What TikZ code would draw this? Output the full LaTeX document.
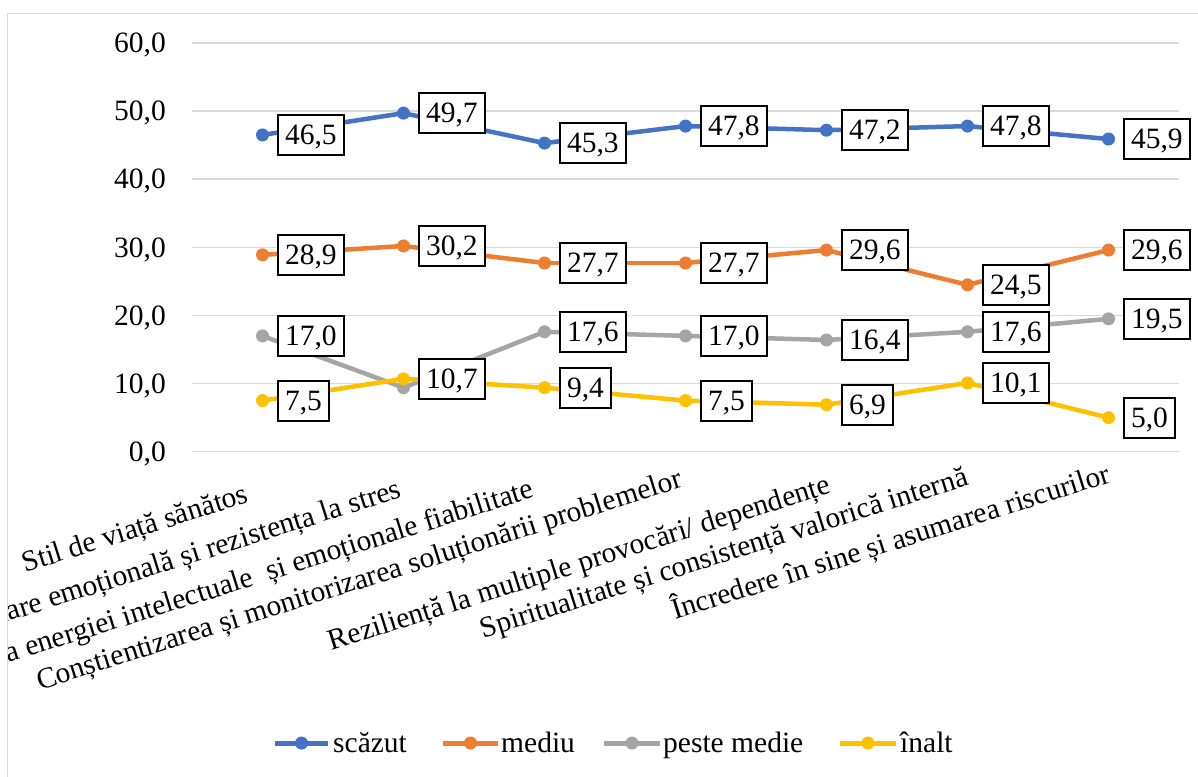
\documentclass[tikz,border=0pt]{standalone}
\usepackage{fontspec}
\setmainfont{Liberation Serif}
\usetikzlibrary{calc}
\definecolor{cblue}{HTML}{4472C4}
\definecolor{corange}{HTML}{ED7D31}
\definecolor{cgray}{HTML}{A5A5A5}
\definecolor{cyellow}{HTML}{FFC000}
\definecolor{gridgray}{HTML}{D9D9D9}
\newcommand\chartfont{\fontsize{29.5}{35}\selectfont}
% one series: name, colour, list of values
\newcommand\drawseries[3]{%
  \foreach \v [count=\i] in {#3} {
    \coordinate (#1\i) at ({262.5+141*(\i-1)}, {451.7-6.812*\v});
  }
  \foreach \i [count=\j] in {2,...,7} {
    \draw[dataline, #2] (#1\j) -- (#1\i);
  }
  \foreach \i in {1,...,7} {
    \node[dot, fill=#2] (#1m\i) at (#1\i) {};
  }
}
\begin{document}
\begin{tikzpicture}[x=1pt, y=-1pt,
  gridline/.style={draw=gridgray, line width=1.5pt},
  dataline/.style={line width=4.5pt, line cap=round, line join=round},
  legline/.style={line width=5pt},
  dot/.style={circle, inner sep=0pt, minimum size=13pt, draw=none},
  vlabel/.style={draw=black, line width=2pt, fill=white, anchor=west,
    inner xsep=7.5pt, inner ysep=10.25pt, text height=19.5pt, text depth=0pt,
    font=\chartfont},
  ylabel/.style={anchor=base east, inner sep=0pt, font=\chartfont},
  catlabel/.style={anchor=base east, inner sep=0pt, rotate=17.5, font=\chartfont},
  legtext/.style={anchor=base west, inner sep=0pt, font=\chartfont}]
\useasboundingbox (0,0) rectangle (1198,776);
\fill[white] (0,0) rectangle (1198,776);

\begin{scope}
\clip (8.5,14.5) rectangle (1198,776);

% horizontal grid and value axis
\foreach \v in {0,10,...,60} {
  \draw[gridline] (192,{451.7-6.812*\v}) -- (1179,{451.7-6.812*\v});
  \node[ylabel] (yl\v) at (166,{451.7-6.812*\v+9.75}) {\v,0};
}

% series
\drawseries{b}{cblue}{46.5,49.7,45.3,47.8,47.2,47.8,45.9}
\drawseries{o}{corange}{28.9,30.2,27.7,27.7,29.6,24.5,29.6}
\drawseries{g}{cgray}{17.0,9.4,17.6,17.0,16.4,17.6,19.5}
\drawseries{y}{cyellow}{7.5,10.7,9.4,7.5,6.9,10.1,5.0}

% data labels
\foreach \i/\t in {1/{46,5},2/{49,7},3/{45,3},4/{47,8},5/{47,2},6/{47,8},7/{45,9}}
  \node[vlabel] (bl\i) at ([xshift=14pt]b\i) {\t};
\foreach \i/\t in {1/{28,9},2/{30,2},3/{27,7},4/{27,7},5/{29,6},6/{24,5},7/{29,6}}
  \node[vlabel] (ol\i) at ([xshift=14pt]o\i) {\t};
\foreach \i/\t in {1/{17,0},3/{17,6},4/{17,0},5/{16,4},6/{17,6},7/{19,5}}
  \node[vlabel] (gl\i) at ([xshift=14pt]g\i) {\t};
\foreach \i/\t in {1/{7,5},2/{10,7},3/{9,4},4/{7,5},5/{6,9},6/{10,1},7/{5,0}}
  \node[vlabel] (yl\i) at ([xshift=14pt]y\i) {\t};

% category axis labels
\node[catlabel] (c1) at (250,502) {Stil de viață sănătos};
\node[catlabel] (c2) at (403,497) {Gestionare emoțională și rezistența la stres};
\node[catlabel] (c3) at (535,497) {Gestionarea energiei intelectuale\ \ și emoționale fiabilitate};
\node[catlabel] (c4) at (684,487) {Conștientizarea și monitorizarea soluționării problemelor};
\node[catlabel] (c5) at (832,493) {Reziliență la multiple provocări/ dependențe};
\node[catlabel] (c6) at (970,485) {Spiritualitate și consistență valorică internă};
\node[catlabel] (c7) at (1112,482) {Încredere în sine și asumarea riscurilor};

% legend
\foreach \k/\col/\xa/\xb/\xt/\txt in {1/cblue/275/328/333/scăzut, 2/corange/443/498/501/mediu,
    3/cgray/604/660/663/peste medie, 4/cyellow/840/896/900/înalt} {
  \coordinate (la\k) at (\xa,743);
  \coordinate (lb\k) at (\xb,743);
  \draw[legline, \col] (la\k) -- (lb\k);
  \node[dot, fill=\col] (lm\k) at ($(la\k)!0.5!(lb\k)$) {};
  \node[legtext] (lt\k) at (\xt,752) {\txt};
}
\end{scope}

% chart frame
\draw[gridgray, line width=1.5pt] (1210,13.5) -- (7.5,13.5) -- (7.5,790);
\end{tikzpicture}
\end{document}
